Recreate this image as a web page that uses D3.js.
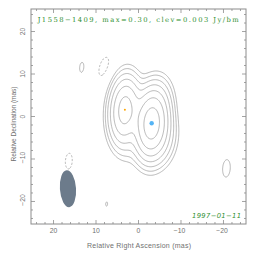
<!DOCTYPE html>
<html>
<head>
<meta charset="utf-8">
<script src="https://cdn.jsdelivr.net/npm/d3@7"></script>
<style>
  html, body { margin: 0; padding: 0; background: #fff; }
  svg { display: block; }
</style>
</head>
<body>
<div id="chart"></div>
<script>
// source and map settings
const sourceName = "J1558\u22121409";
const peakFlux = 0.30;   // Jy/beam
const clev = 0.003;      // lowest contour, Jy/beam
const epoch = "1997-01-11";
const levelSteps = [1, 2, 4, 8, 16, 32, 64];

// model components (RA, Dec in mas; peak in Jy/bm; FWHM in mas; PA in deg)
const compRA   = [3.2, -3.1, -5.8, 3.5, -5.5, 13.3, 8.2, 16.4, -20.7, 7.5];
const compDec  = [1.6, -1.6, -6.0, -5.0, 5.0, 11.5, 11.7, -10.5, -12.2, -20.6];
const compPeak = [0.13, 0.29, 0.012, 0.007, 0.005, 0.0032, -0.0037, -0.0034, 0.0035, 0.00303];
const compMaj  = [9.2, 9.4, 8.0, 8.0, 7.0, 8.7, 8.7, 8.7, 8.7, 8.7];
const compMin  = [4.3, 4.6, 4.5, 4.2, 4.2, 3.8, 3.8, 3.8, 3.8, 3.8];
const compPA   = [-4, -4, -10, 10, 0, -4, -20, -4, -4, -4];

// restoring beam
const beamRA = 16.6, beamDec = -17.0, beamMaj = 8.7, beamMin = 3.8, beamPA = -4;

// peak markers
const markRA  = [3.2, -3.1];
const markDec = [1.6, -1.6];

const xTicks = [20, 10, 0, -10, -20];
const yTicks = [-20, -10, 0, 10, 20];
const minorTicks = d3.range(-24, 25, 2);

const width = 264, height = 262;
const margin = { top: 9, right: 18, bottom: 38, left: 31 };
const lim = 25.3;

const x = d3.scaleLinear().domain([lim, -lim]).range([margin.left, width - margin.right]);
const y = d3.scaleLinear().domain([-lim, lim]).range([height - margin.bottom, margin.top]);

const svg = d3.select("#chart").append("svg")
    .attr("width", width)
    .attr("height", height)
    .attr("viewBox", [0, 0, width, height]);

svg.append("clipPath").attr("id", "clip")
  .append("rect")
    .attr("x", margin.left).attr("y", margin.top)
    .attr("width", x.range()[1] - x.range()[0])
    .attr("height", y.range()[0] - y.range()[1]);

// build the brightness grid from the components
const n = 260;
const step = (2 * lim) / n;
const values = new Float64Array(n * n);
const k = 4 * Math.LN2;
for (let j = 0; j < n; j++) {
    const dec = lim - (j + 0.5) * step;
    for (let i = 0; i < n; i++) {
        const ra = lim - (i + 0.5) * step;
        let v = 0;
        for (let c = 0; c < compRA.length; c++) {
            const pa = compPA[c] * Math.PI / 180;
            const dx = ra - compRA[c], dy = dec - compDec[c];
            const u = dx * Math.sin(pa) + dy * Math.cos(pa);
            const w = dx * Math.cos(pa) - dy * Math.sin(pa);
            v += compPeak[c] * Math.exp(-k * (u * u / (compMaj[c] * compMaj[c]) + w * w / (compMin[c] * compMin[c])));
        }
        values[i + j * n] = v;
    }
}

const gridToScreen = d3.geoTransform({
    point: function(gx, gy) {
        this.stream.point(x(lim - gx * step), y(lim - gy * step));
    }
});
const path = d3.geoPath(gridToScreen);

const levels = levelSteps.map(s => s * clev);
const posContours = d3.contours().size([n, n]).thresholds(levels)(values);
const negContours = d3.contours().size([n, n]).thresholds([clev])(values.map(v => -v));

const g = svg.append("g").attr("clip-path", "url(#clip)");

// beam
g.append("ellipse")
    .attr("transform", `translate(${x(beamRA)},${y(beamDec)}) rotate(${beamPA})`)
    .attr("rx", (x(0) - x(beamMin / 2)))
    .attr("ry", (y(0) - y(beamMaj / 2)))
    .attr("fill", "#6c7b8b");

g.append("g")
    .attr("fill", "none")
    .attr("stroke", "#a3a3a3")
    .attr("stroke-width", 0.8)
  .selectAll("path")
  .data(posContours)
  .join("path")
    .attr("d", path);

g.append("g")
    .attr("fill", "none")
    .attr("stroke", "#a3a3a3")
    .attr("stroke-width", 0.8)
    .attr("stroke-dasharray", "2.2,1.6")
  .selectAll("path")
  .data(negContours)
  .join("path")
    .attr("d", path);

// peak markers
g.append("circle").attr("cx", x(markRA[0])).attr("cy", y(markDec[0])).attr("r", 1).attr("fill", "#ffa500");
g.append("circle").attr("cx", x(markRA[1])).attr("cy", y(markDec[1])).attr("r", 2.2).attr("fill", "#55b4f5");

// frame and ticks
const x0 = x.range()[0], x1 = x.range()[1], y0 = y.range()[0], y1 = y.range()[1];
const axisColor = "#8c8c8c";
svg.append("rect")
    .attr("x", x0).attr("y", y1).attr("width", x1 - x0).attr("height", y0 - y1)
    .attr("fill", "none").attr("stroke", axisColor).attr("stroke-width", 1);

const ticks = svg.append("g").attr("stroke", axisColor).attr("stroke-width", 0.8);
minorTicks.forEach(t => {
    const len = t % 10 === 0 ? 4 : 2;
    ticks.append("line").attr("x1", x(t)).attr("x2", x(t)).attr("y1", y0).attr("y2", y0 - len);
    ticks.append("line").attr("x1", x(t)).attr("x2", x(t)).attr("y1", y1).attr("y2", y1 + len);
    ticks.append("line").attr("y1", y(t)).attr("y2", y(t)).attr("x1", x0).attr("x2", x0 + len);
    ticks.append("line").attr("y1", y(t)).attr("y2", y(t)).attr("x1", x1).attr("x2", x1 - len);
});

const fmt = d => d < 0 ? "\u2212" + Math.abs(d) : String(d);
svg.append("g")
    .attr("font-family", "Liberation Sans, Arial, sans-serif")
    .attr("font-size", 6.8)
    .attr("fill", "#707070")
    .attr("text-anchor", "middle")
  .selectAll("text")
  .data(xTicks)
  .join("text")
    .attr("x", d => x(d) - (d < 0 ? 1.5 : 0))
    .attr("y", 233)
    .text(fmt);

svg.append("g")
    .attr("font-family", "Liberation Sans, Arial, sans-serif")
    .attr("font-size", 6.8)
    .attr("fill", "#707070")
    .attr("text-anchor", "middle")
  .selectAll("text")
  .data(yTicks)
  .join("text")
    .attr("transform", d => `translate(25,${y(d) - (d < 0 ? 1.5 : 0)}) rotate(-90)`)
    .text(fmt);

svg.append("text")
    .attr("x", 139).attr("y", 247.5)
    .attr("font-family", "Liberation Sans, Arial, sans-serif")
    .attr("font-size", 7)
    .attr("fill", "#707070")
    .attr("text-anchor", "middle")
    .attr("textLength", 104)
    .text("Relative Right Ascension (mas)");

svg.append("text")
    .attr("transform", "translate(15.5,124) rotate(-90)")
    .attr("font-family", "Liberation Sans, Arial, sans-serif")
    .attr("font-size", 6.6)
    .attr("fill", "#707070")
    .attr("text-anchor", "middle")
    .attr("textLength", 75)
    .text("Relative Declination (mas)");

svg.append("text")
    .attr("x", 37.7).attr("y", 22.3)
    .attr("font-family", "DejaVu Serif, serif")
    .attr("font-size", 6.8)
    .attr("fill", "#2f8f2f")
    .attr("textLength", 201)
    .attr("lengthAdjust", "spacing")
    .text(`${sourceName}, max=${peakFlux.toFixed(2)}, clev=${clev} Jy/bm`);

svg.append("text")
    .attr("x", 241).attr("y", 217.5)
    .attr("font-family", "DejaVu Sans, sans-serif")
    .attr("font-style", "italic")
    .attr("font-size", 6.8)
    .attr("fill", "#2f8f2f")
    .attr("text-anchor", "end")
    .attr("textLength", 49)
    .attr("lengthAdjust", "spacing")
    .text(epoch.replace(/-/g, "\u2212"));
</script>
</body>
</html>
